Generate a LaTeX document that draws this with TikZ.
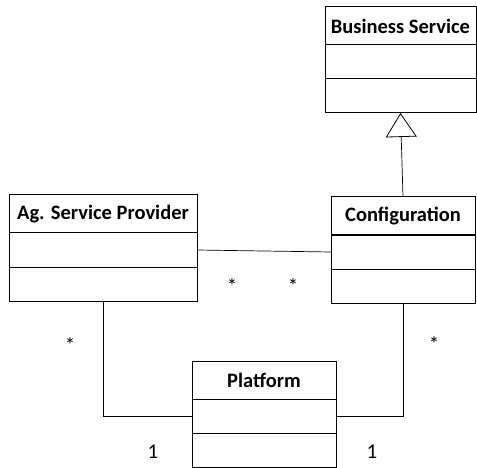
\documentclass[tikz,border=0pt]{standalone}
\usepackage{fontspec}
\setmainfont{Carlito}
\usetikzlibrary{positioning,arrows.meta}

\begin{document}
\begin{tikzpicture}[
  x = 1pt, y = -1pt,
  cls/.style  = {draw, line width = 1pt, minimum height = 38pt, inner sep = 0pt, outer sep = 0pt,
                 anchor = north west, font = \bfseries\fontsize{20.5}{24}\selectfont},
  part/.style = {draw, line width = 1pt, minimum height = 34pt, inner sep = 0pt, outer sep = 0pt},
  link/.style = {line width = 0.7pt},
  mult/.style = {font = \fontsize{21}{24}\selectfont, inner sep = 0pt}
]
\useasboundingbox (0,0) rectangle (477,468);

\node[cls, minimum width = 151pt] (bs) at (325,7) {Business Service};
\node[part, minimum width = 151pt, below = 0pt of bs] (bsa) {};
\node[part, minimum width = 151pt, below = 0pt of bsa] (bsb) {};

\node[cls, minimum width = 188pt] (asp) at (9,195) {Ag. Service Provider};
\node[part, minimum width = 188pt, below = 0pt of asp] (aspa) {};
\node[part, minimum width = 188pt, below = 0pt of aspa] (aspb) {};

\node[cls, minimum width = 144pt] (cfg) at (331,197) {Configuration};
\node[part, minimum width = 144pt, below = 0pt of cfg] (cfga) {};
\node[part, minimum width = 144pt, below = 0pt of cfga] (cfgb) {};

\node[cls, minimum width = 144pt] (pf) at (192,361) {Platform};
\node[part, minimum width = 144pt, below = 0pt of pf] (pfa) {};
\node[part, minimum width = 144pt, below = 0pt of pfa] (pfb) {};

\draw[link, -{Triangle[open, width = 31pt, length = 24pt, line width = 0.8pt]}]
  (cfg.north) -- (bsb.south);
\draw[link] (aspa.east) -- (cfga.west);
\draw[link] (aspb.south) |- (pfa.west);
\draw[link] (cfgb.south) |- (pfa.east);

\node[mult] (m1) at (70,345) {*};
\node[mult] (m2) at (232,286) {*};
\node[mult] (m3) at (293,286) {*};
\node[mult] (m4) at (434,344) {*};
\node[mult] (m5) at (153,452) {1};
\node[mult] (m6) at (372,452) {1};
\end{tikzpicture}
\end{document}
